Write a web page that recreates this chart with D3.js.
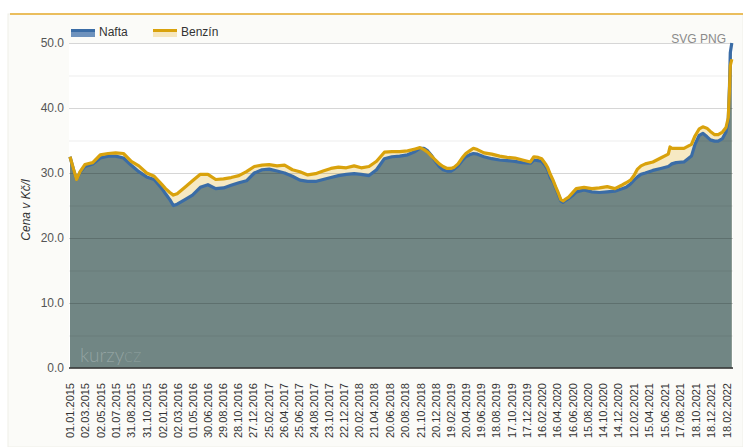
<!DOCTYPE html>
<html>
<head>
<meta charset="utf-8">
<script src="https://cdn.jsdelivr.net/npm/d3@7"></script>
<style>
  html, body { margin: 0; padding: 0; background: #fff; }
  svg { display: block; font-family: 'Liberation Sans', Arial, sans-serif; }
</style>
</head>
<body>
<div id="chart"></div>
<script>
// prices in Kč/l
const dates = [
  '2015-01-01', '2015-01-15', '2015-01-27', '2015-02-10', '2015-03-01', '2015-04-01', '2015-05-01', '2015-06-01',
  '2015-07-01', '2015-08-01', '2015-09-01', '2015-10-01', '2015-11-01', '2015-12-01',
  '2016-01-01', '2016-01-15', '2016-02-01', '2016-02-15', '2016-03-01', '2016-04-01', '2016-05-01', '2016-06-01',
  '2016-07-01', '2016-08-01', '2016-09-01', '2016-10-01', '2016-11-01', '2016-12-01',
  '2017-01-01', '2017-02-01', '2017-03-01', '2017-04-01', '2017-05-01', '2017-06-01', '2017-07-01', '2017-08-01',
  '2017-09-01', '2017-10-01', '2017-11-01', '2017-12-01',
  '2018-01-01', '2018-02-01', '2018-03-01', '2018-04-01', '2018-05-01', '2018-06-01', '2018-07-01', '2018-08-01',
  '2018-09-01', '2018-10-01', '2018-10-20', '2018-11-05', '2018-11-20', '2018-12-05', '2018-12-20',
  '2019-01-05', '2019-01-20', '2019-02-05', '2019-02-20', '2019-03-05', '2019-03-20', '2019-04-05', '2019-04-20',
  '2019-05-05', '2019-05-20', '2019-06-05', '2019-07-01', '2019-08-01', '2019-09-01', '2019-10-01', '2019-11-01',
  '2019-12-01',
  '2020-01-01', '2020-01-15', '2020-02-01', '2020-02-15', '2020-03-01', '2020-03-10', '2020-03-20', '2020-04-01',
  '2020-04-10', '2020-04-20', '2020-05-01', '2020-05-10', '2020-05-20', '2020-06-01', '2020-06-15', '2020-07-01',
  '2020-08-01', '2020-09-01', '2020-10-01', '2020-11-01', '2020-12-01',
  '2021-01-01', '2021-01-15', '2021-02-01', '2021-02-15', '2021-03-01', '2021-03-15', '2021-04-01', '2021-05-01',
  '2021-06-01', '2021-07-01', '2021-07-08', '2021-07-15', '2021-08-01', '2021-09-01', '2021-10-01', '2021-10-15',
  '2021-11-01', '2021-11-15', '2021-12-01', '2021-12-15',
  '2022-01-01', '2022-01-15', '2022-02-01', '2022-02-15', '2022-02-24', '2022-03-01', '2022-03-04', '2022-03-10'
]

const benzin = [
  32.5, 30.6, 29.0, 30.2, 31.3, 31.6, 32.8, 33.0,
  33.1, 33.0, 31.8, 31.1, 30.0, 29.5,
  28.2, 27.6, 27.0, 26.6, 26.8, 27.8, 28.8, 29.8,
  29.8, 29.0, 29.1, 29.3, 29.6, 30.2,
  31.0, 31.2, 31.3, 31.1, 31.2, 30.5, 30.2, 29.7,
  29.9, 30.3, 30.7, 30.9,
  30.8, 31.1, 30.8, 31.0, 31.8, 33.2, 33.3, 33.3,
  33.4, 33.7, 33.9, 33.6, 33.2, 32.6, 32.0,
  31.4, 31.0, 30.7, 30.7, 30.9, 31.4, 32.3, 33.0,
  33.4, 33.8, 33.6, 33.1, 32.9, 32.6, 32.4, 32.3,
  32.0,
  31.7, 32.5, 32.4, 32.2, 31.4, 30.8, 29.8, 28.8,
  27.9, 27.0, 25.9, 25.7, 26.0, 26.3, 26.9, 27.6,
  27.8, 27.6, 27.7, 27.9, 27.6,
  28.2, 28.5, 28.9, 29.6, 30.6, 31.1, 31.4, 31.7,
  32.3, 32.9, 34.0, 33.8, 33.8, 33.8, 34.4, 35.7,
  36.8, 37.1, 36.9, 36.4,
  35.9, 35.9, 36.3, 37.0, 38.5, 43.0, 46.5, 47.5
]

const nafta = [
  32.5, 30.5, 29.0, 30.1, 31.0, 31.4, 32.3, 32.6,
  32.6, 32.3, 31.2, 30.2, 29.4, 29.0,
  27.6, 26.8, 25.9, 25.0, 25.2, 25.9, 26.6, 27.8,
  28.2, 27.6, 27.7, 28.1, 28.5, 28.8,
  30.0, 30.5, 30.6, 30.3, 30.0, 29.5, 28.9, 28.7,
  28.7, 29.0, 29.3, 29.6,
  29.8, 29.9, 29.8, 29.6, 30.5, 32.2, 32.5, 32.6,
  32.8, 33.3, 33.8, 33.8, 33.4, 32.7, 31.8,
  31.0, 30.5, 30.3, 30.3, 30.6, 31.1, 31.9, 32.5,
  32.8, 33.0, 32.9, 32.5, 32.2, 32.0, 31.9, 31.8,
  31.6,
  31.5, 32.0, 31.9, 31.8, 31.1, 30.5, 29.3, 28.6,
  27.7, 26.8, 25.7, 25.5, 25.8, 26.1, 26.5, 27.1,
  27.4, 27.1, 27.0, 27.1, 27.2,
  27.6, 27.8, 28.3, 28.9, 29.4, 29.8, 30.0, 30.4,
  30.7, 31.0, 31.2, 31.4, 31.6, 31.7, 32.6, 34.4,
  35.8, 36.1, 35.6, 35.1,
  34.9, 34.9, 35.3, 36.3, 38.2, 43.5, 48.5, 50.0
]

const tickLabels = [
  '01.01.2015', '02.03.2015', '02.05.2015', '01.07.2015', '31.08.2015', '31.10.2015',
  '02.01.2016', '02.03.2016', '01.05.2016', '30.06.2016', '29.08.2016', '28.10.2016', '27.12.2016',
  '25.02.2017', '26.04.2017', '25.06.2017', '24.08.2017', '23.10.2017', '22.12.2017',
  '20.02.2018', '21.04.2018', '20.06.2018', '20.08.2018', '21.10.2018', '20.12.2018',
  '19.02.2019', '20.04.2019', '19.06.2019', '18.08.2019', '17.10.2019', '17.12.2019',
  '16.02.2020', '16.04.2020', '16.06.2020', '15.08.2020', '14.10.2020', '14.12.2020',
  '12.02.2021', '15.04.2021', '15.06.2021', '17.08.2021', '18.10.2021', '18.12.2021',
  '18.02.2022'
]

const yTicks = [0, 10, 20, 30, 40, 50]
const yGrid = [0, 5, 10, 15, 20, 25, 30, 35, 40, 45, 50]

function drawChart() {
  const W = 743, H = 447
  const pLeft = 69, pRight = 733, pTop = 43, pBottom = 368

  const parseIso = d3.timeParse('%Y-%m-%d')
  const parseDmy = d3.timeParse('%d.%m.%Y')
  const fmtDmy = d3.timeFormat('%d.%m.%Y')

  const rows = dates.map((d, i) => ({ date: parseIso(d), b: benzin[i], n: nafta[i] }))

  const svg = d3.select('#chart').append('svg')
    .attr('width', W)
    .attr('height', H)

  // panel background + orange top rule
  svg.append('rect')
    .attr('x', 8).attr('y', 14)
    .attr('width', W - 8).attr('height', H - 14)
    .attr('fill', '#fbfbf8')
    .attr('stroke', '#efefe8')
  svg.append('line')
    .attr('x1', 10).attr('x2', W)
    .attr('y1', 14).attr('y2', 14)
    .attr('stroke', '#e6ab2c')
    .attr('stroke-width', 1.5)

  svg.append('rect')
    .attr('x', pLeft).attr('y', pTop)
    .attr('width', pRight - pLeft).attr('height', pBottom - pTop)
    .attr('fill', '#fff')

  const x = d3.scaleTime()
    .domain([parseIso('2015-01-01'), parseIso('2022-03-10')])
    .range([70, 731.8])

  const y = d3.scaleLinear()
    .domain([0, 50])
    .range([pBottom, pTop])

  const areaB = d3.area().x(d => x(d.date)).y0(y(0)).y1(d => y(d.b))
  const areaN = d3.area().x(d => x(d.date)).y0(y(0)).y1(d => y(d.n))
  const lineB = d3.line().x(d => x(d.date)).y(d => y(d.b))
  const lineN = d3.line().x(d => x(d.date)).y(d => y(d.n))

  svg.append('path')
    .datum(rows)
    .attr('d', areaB)
    .attr('fill', '#f6e9c3')

  svg.append('path')
    .datum(rows)
    .attr('d', areaN)
    .attr('fill', '#718684')

  // grid on top of the fills
  svg.append('g')
    .selectAll('line')
    .data(yGrid)
    .join('line')
    .attr('x1', pLeft).attr('x2', pRight)
    .attr('y1', d => y(d) + 0.5).attr('y2', d => y(d) + 0.5)
    .attr('stroke', d => d % 10 === 0 ? 'rgba(0,0,0,0.16)' : 'rgba(0,0,0,0.07)')
    .attr('stroke-width', 1)

  svg.append('path')
    .datum(rows)
    .attr('d', lineN)
    .attr('fill', 'none')
    .attr('stroke', '#3a6ca6')
    .attr('stroke-width', 3.2)
    .attr('stroke-linejoin', 'round')

  svg.append('path')
    .datum(rows)
    .attr('d', lineB)
    .attr('fill', 'none')
    .attr('stroke', '#d9a20c')
    .attr('stroke-width', 3.2)
    .attr('stroke-linejoin', 'round')

  // watermark
  const wm = svg.append('text')
    .attr('x', 80).attr('y', 362)
    .style('font-family', 'Lato, sans-serif')
    .style('font-weight', 300)
    .style('font-size', '19px')
  wm.append('tspan').text('kurzy').attr('fill', 'rgba(255,255,255,0.25)')
  wm.append('tspan').text('cz').attr('fill', 'rgba(255,255,255,0.16)')

  svg.append('line')
    .attr('x1', pLeft).attr('x2', pRight)
    .attr('y1', pBottom).attr('y2', pBottom)
    .attr('stroke', '#333')
    .attr('stroke-width', 1.5)

  // x axis
  const xAxis = svg.append('g')
    .attr('transform', `translate(0,${pBottom})`)
    .call(d3.axisBottom(x)
      .tickValues(tickLabels.map(parseDmy))
      .tickFormat(fmtDmy)
      .tickSize(0))
  xAxis.select('.domain').remove()
  xAxis.selectAll('text')
    .attr('transform', 'rotate(-90)')
    .attr('text-anchor', 'end')
    .attr('x', -15)
    .attr('y', 0)
    .attr('dy', '0.35em')
    .style('font-size', '11px')
    .style('font-family', "'Liberation Sans', Arial, sans-serif")
    .attr('fill', '#333')

  // y axis
  const yAxis = svg.append('g')
    .attr('transform', `translate(${pLeft},0)`)
    .call(d3.axisLeft(y)
      .tickValues(yTicks)
      .tickFormat(d3.format('.1f'))
      .tickSize(0)
      .tickPadding(5))
  yAxis.select('.domain').remove()
  yAxis.selectAll('text')
    .style('font-size', '12px')
    .style('font-family', "'Liberation Sans', Arial, sans-serif")
    .attr('fill', '#555')

  svg.append('text')
    .attr('transform', 'translate(30,210) rotate(-90)')
    .attr('text-anchor', 'middle')
    .style('font-size', '12px')
    .style('font-style', 'italic')
    .attr('fill', '#333')
    .text('Cena v Kč/l')

  // legend
  const legend = [
    { name: 'Nafta', line: '#3a6ca6', fill: '#6e92bd', x: 71 },
    { name: 'Benzín', line: '#d9a20c', fill: '#f6e6bd', x: 153 }
  ]
  const lg = svg.append('g')
    .selectAll('g')
    .data(legend)
    .join('g')
    .attr('transform', d => `translate(${d.x},29)`)
  lg.append('rect')
    .attr('x', 0).attr('y', 2)
    .attr('width', 24).attr('height', 6)
    .attr('fill', d => d.fill)
  lg.append('rect')
    .attr('x', 0).attr('y', 0)
    .attr('width', 24).attr('height', 3)
    .attr('fill', d => d.line)
  lg.append('text')
    .attr('x', 28).attr('y', 7)
    .style('font-size', '12px')
    .attr('fill', '#333')
    .text(d => d.name)

  svg.append('text')
    .attr('x', 726).attr('y', 43)
    .attr('text-anchor', 'end')
    .style('font-size', '12px')
    .attr('fill', '#8a8a8a')
    .text('SVG PNG')
}

drawChart()
</script>
</body>
</html>
